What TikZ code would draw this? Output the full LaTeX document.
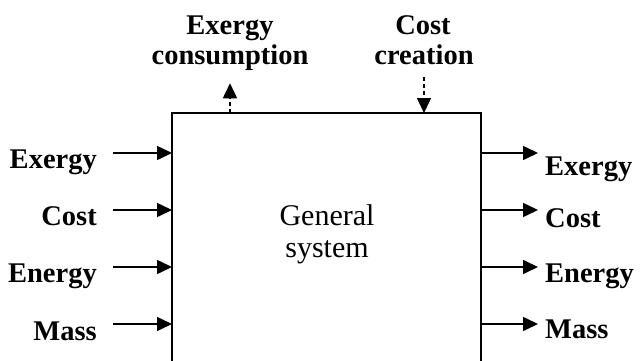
\documentclass[tikz,border=0pt]{standalone}
\usepackage{fontspec}
\setmainfont{Liberation Serif}
\usetikzlibrary{arrows.meta,calc}
\begin{document}
\begin{tikzpicture}[x=1pt,y=-1pt,
  lbl/.style={font=\fontsize{28.5}{30}\selectfont\bfseries, inner sep=0pt},
  flow/.style={line width=1.6pt, -{Triangle[length=15pt,width=14pt]}},
  dflow/.style={flow, dash pattern=on 4pt off 3pt}]
\useasboundingbox (0,0) rectangle (642,361);
\clip (0,0) rectangle (642,361);

% the system box, running off the lower edge
\node[draw, line width=1.6pt, minimum width=309pt, minimum height=300pt,
      inner sep=0pt, outer sep=0pt, anchor=north west] (sys) at (172,113) {};
\node[font=\fontsize{30}{32}\selectfont, align=center] (txt) at (327,234) {General\\system};

% flow rows
\coordinate (r1) at (0,153);
\coordinate (r2) at (0,210);
\coordinate (r3) at (0,267);
\coordinate (r4) at (0,324);

% inputs
\node[lbl, anchor=base east] (inEx) at (97,168) {Exergy};
\node[lbl, anchor=base east] (inCo) at (97,225) {Cost};
\node[lbl, anchor=base east] (inEn) at (97,282) {Energy};
\node[lbl, anchor=base east] (inMa) at (97,340) {Mass};
\foreach \r/\l in {r1/inEx, r2/inCo, r3/inEn, r4/inMa}
  \draw[flow] ($(\r -| \l.east)+(16,0)$) -- (\r -| sys.west);

% outputs
\node[lbl, anchor=base west] (outEx) at (545,175) {Exergy};
\node[lbl, anchor=base west] (outCo) at (545,227) {Cost};
\node[lbl, anchor=base west] (outEn) at (545,282) {Energy};
\node[lbl, anchor=base west] (outMa) at (545,338) {Mass};
\foreach \r/\l in {r1/outEx, r2/outCo, r3/outEn, r4/outMa}
  \draw[flow] (\r -| sys.east) -- ($(\r -| \l.west)+(-7,0)$);

% exergy consumption and cost creation
\node[lbl, anchor=base] (ec1) at (230,35) {Exergy};
\node[lbl, anchor=base] (ec2) at (230,65) {consumption};
\node[lbl, anchor=base] (cc1) at (423,35) {Cost};
\node[lbl, anchor=base] (cc2) at (424,65) {creation};
\draw[dflow] (ec2.south |- sys.north) -- ([yshift=-12pt]ec2.south);
\draw[dflow] ([yshift=-12pt]cc2.south) -- (cc2.south |- sys.north);
\end{tikzpicture}
\end{document}
